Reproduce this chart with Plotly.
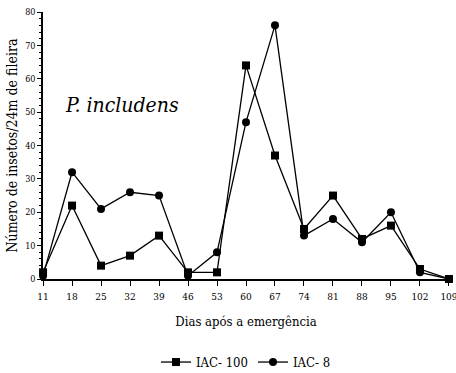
import plotly.graph_objects as go

dias = [11, 18, 25, 32, 39, 46, 53, 60, 67, 74, 81, 88, 95, 102, 109]
iac100 = [2, 22, 4, 7, 13, 2, 2, 64, 37, 15, 25, 12, 16, 3, 0]
iac8 = [1, 32, 21, 26, 25, 1, 8, 47, 76, 13, 18, 11, 20, 2, 0]
y_ticks = [0, 10, 20, 30, 40, 50, 60, 70, 80]

font = "DejaVu Serif Condensed, DejaVu Serif"
fig = go.Figure()
fig.add_trace(go.Scatter(x=dias, y=iac100, name="IAC- 100", mode="lines+markers",
                         line=dict(color="black", width=1.3),
                         marker=dict(symbol="square", size=8, color="black"),
                         cliponaxis=False))
fig.add_trace(go.Scatter(x=dias, y=iac8, name="IAC- 8", mode="lines+markers",
                         line=dict(color="black", width=1.3),
                         marker=dict(symbol="circle", size=8, color="black"),
                         cliponaxis=False))

fig.update_layout(
    width=456, height=373,
    margin=dict(l=43, r=7, t=12, b=94, autoexpand=False),
    plot_bgcolor="white", paper_bgcolor="white",
    font=dict(family=font, color="black"),
    showlegend=True,
    legend=dict(orientation="h", x=0.5, xanchor="center", y=-0.255, yanchor="top",
                font=dict(size=13, family=font), itemwidth=30, tracegroupgap=0),
    xaxis=dict(range=[10.99, 109.01], tickvals=dias, ticktext=[str(d) for d in dias],
               showgrid=False, zeroline=False, showline=True, linecolor="black", linewidth=1.5,
               ticks="outside", ticklen=5, tickcolor="black", ticklabeloverflow="allow",
               ticklabelstandoff=2,
               tickfont=dict(size=10, family=font), automargin=False,
               title=dict(text="Dias após a emergência", font=dict(size=13, family=font), standoff=16)),
    yaxis=dict(range=[0, 80], tickvals=y_ticks, automargin=False,
               showgrid=False, zeroline=False, showline=True, linecolor="black", linewidth=1.5,
               ticks="outside", ticklen=4, tickcolor="black",
               tickfont=dict(size=9, family=font),
               minor=dict(dtick=2, ticks="outside", ticklen=2, tickcolor="black"),
               title=dict(text="Número de insetos/24m de fileira", font=dict(size=14, family=font), standoff=4)),
)
fig.add_annotation(x=0.05, y=52, xref="paper", yref="y", text="<i>P. includens</i>",
                   showarrow=False, xanchor="left", yanchor="middle",
                   font=dict(size=21, family=font, color="black"))
fig.write_html("out.html", config={"displayModeBar": False},
               post_script="document.body.style.margin='0';document.body.style.overflow='hidden';")
